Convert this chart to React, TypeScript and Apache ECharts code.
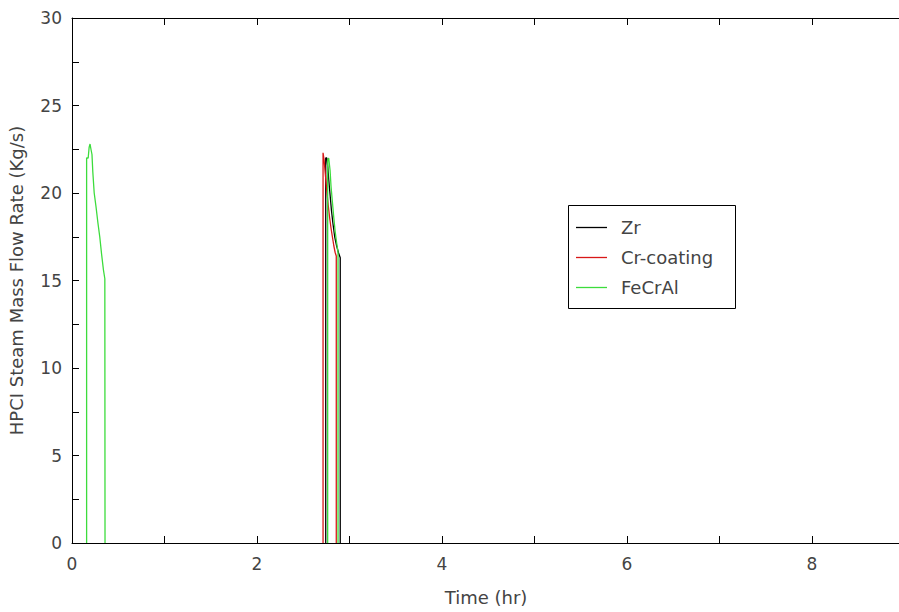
import React, { useEffect, useRef } from "react";
import * as echarts from "echarts";

const seriesNames = ["Zr", "Cr-coating", "FeCrAl"];
const seriesColors = ["#000000", "#d81818", "#3cdc3c"];

// [time (hr), HPCI steam mass flow rate (kg/s)]; "-" breaks the line (flow is zero there)
const zrData: (number | string)[][] = [
  [2.743, 0], [2.743, 22.0], [2.755, 22.0], [2.765, 21.5], [2.775, 20.8],
  [2.79, 19.9], [2.805, 19.0], [2.82, 18.3], [2.84, 17.5], [2.86, 17.0],
  [2.88, 16.6], [2.9, 16.3], [2.9, 0],
];
const crData: (number | string)[][] = [
  [2.714, 0], [2.714, 22.3], [2.725, 21.9], [2.74, 21.0], [2.755, 20.1],
  [2.77, 19.3], [2.785, 18.6], [2.8, 18.0], [2.815, 17.5], [2.83, 17.0],
  [2.845, 16.6], [2.857, 16.4], [2.857, 0],
];
const fecralData: (number | string)[][] = [
  [0.158, 0], [0.158, 22.0], [0.175, 22.0], [0.185, 22.6], [0.195, 22.8],
  [0.205, 22.5], [0.216, 22.2], [0.225, 21.2], [0.24, 20.0], [0.26, 19.2],
  [0.28, 18.3], [0.3, 17.5], [0.32, 16.5], [0.34, 15.6], [0.355, 15.1], [0.357, 0],
  [1.5, "-"],
  [2.764, 0], [2.764, 21.9], [2.775, 22.0], [2.79, 21.3], [2.8, 20.4], [2.815, 19.5],
  [2.83, 18.6], [2.845, 17.8], [2.86, 17.2], [2.876, 16.6], [2.876, 0],
];

const xTitle = "Time (hr)";
const yTitle = "HPCI Steam Mass Flow Rate (Kg/s)";

export default function App() {
  const ref = useRef<HTMLDivElement>(null);
  useEffect(() => {
    document.body.style.margin = "0";
    if (!ref.current) return;
    const chart = echarts.init(ref.current, undefined, { renderer: "svg" });
    const font = "DejaVu Sans";
    const axisColor = "#000";
    const labelColor = "#444";
    const baseX = {
      type: "value" as const,
      min: 0,
      max: 10,
      interval: 1,
      splitLine: { show: false },
      axisLine: { show: true, onZero: false, lineStyle: { color: axisColor, width: 1 } },
      axisTick: { show: true, inside: true, length: 7, lineStyle: { color: axisColor } },
    };
    const data = [zrData, crData, fecralData];

    // legend drawn as graphic elements (box at 568..735 x 205..308)
    const legendX = 568;
    const legendY = 205;
    const rowYs = [227, 257, 287];
    const legendGraphics: any[] = [
      {
        type: "rect",
        shape: { x: legendX + 0.5, y: legendY + 0.5, width: 167, height: 103 },
        style: { fill: "#fff", stroke: "#000", lineWidth: 1 },
        z: 100,
      },
    ];
    seriesNames.forEach((name, i) => {
      legendGraphics.push({
        type: "line",
        shape: { x1: 576, y1: rowYs[i] + 0.5, x2: 607, y2: rowYs[i] + 0.5 },
        style: { stroke: seriesColors[i], lineWidth: 1.3 },
        z: 101,
      });
      legendGraphics.push({
        type: "text",
        x: 621,
        y: rowYs[i],
        style: {
          text: name,
          fill: labelColor,
          fontSize: 18,
          fontFamily: font,
          verticalAlign: "middle",
          align: "left",
        },
        z: 101,
      });
    });

    chart.setOption({
      animation: false,
      backgroundColor: "#fff",
      textStyle: { fontFamily: font },
      grid: {
        left: 72,
        top: 18,
        width: 925,
        height: 525,
        containLabel: false,
        outerBoundsMode: "none",
      },
      xAxis: [
        {
          ...baseX,
          position: "bottom",
          axisLabel: {
            color: labelColor,
            fontSize: 17,
            margin: 12,
            formatter: (v: number) =>
              Math.round(v) % 2 === 0 && v < 8.5 ? String(Math.round(v)) : "",
          },
        },
        { ...baseX, position: "top", axisLabel: { show: false } },
      ],
      yAxis: {
        type: "value",
        min: 0,
        max: 30,
        interval: 2.5,
        splitLine: { show: false },
        axisLine: { show: true, onZero: false, lineStyle: { color: axisColor, width: 1 } },
        axisTick: { show: true, inside: true, length: 7, lineStyle: { color: axisColor } },
        axisLabel: {
          color: labelColor,
          fontSize: 17,
          margin: 10,
          formatter: (v: number) => (v % 5 === 0 ? String(v) : ""),
        },
        name: yTitle,
        nameLocation: "middle",
        nameGap: 47,
        nameTextStyle: { color: labelColor, fontSize: 18, fontFamily: font },
      },
      graphic: [
        {
          type: "text",
          x: 486,
          y: 597,
          style: {
            text: xTitle,
            fill: labelColor,
            fontSize: 18,
            fontFamily: font,
            align: "center",
            verticalAlign: "middle",
          },
        },
        ...legendGraphics,
      ],
      series: seriesNames.map((name, i) => ({
        name,
        type: "line",
        data: data[i],
        xAxisIndex: 0,
        showSymbol: false,
        symbol: "none",
        connectNulls: false,
        lineStyle: { color: seriesColors[i], width: 1.3 },
        itemStyle: { color: seriesColors[i] },
        z: 2,
      })),
    });
    return () => chart.dispose();
  }, []);
  return <div ref={ref} style={{ width: 899, height: 612 }} />;
}
